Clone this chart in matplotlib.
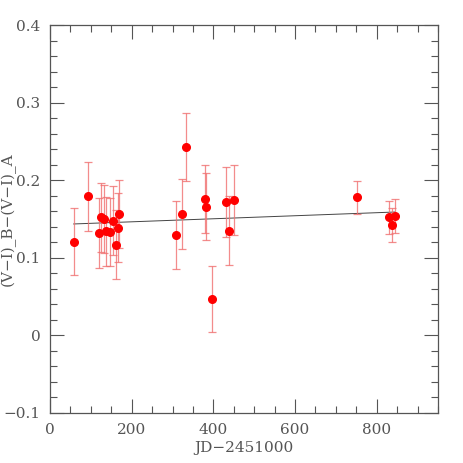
import matplotlib
matplotlib.use("Agg")
import matplotlib.pyplot as plt
from matplotlib.ticker import MultipleLocator, FuncFormatter

# colour difference between the two images vs time
jd = [58.7, 92, 120, 124.7, 131, 137.7, 147.5, 154, 161.4, 165.5, 168,
      309, 322, 333.5, 380, 383, 396.8, 432, 439, 450.7,
      750.6, 831, 838, 844]
dvi = [0.121, 0.179, 0.132, 0.152, 0.150, 0.134, 0.133, 0.148, 0.117, 0.139, 0.156,
       0.129, 0.156, 0.243, 0.176, 0.166, 0.047, 0.172, 0.135, 0.174,
       0.178, 0.152, 0.142, 0.154]
err = [0.043, 0.044, 0.045, 0.044, 0.044, 0.044, 0.044, 0.044, 0.044, 0.044, 0.044,
       0.044, 0.045, 0.044, 0.044, 0.043, 0.043, 0.045, 0.044, 0.045,
       0.021, 0.021, 0.022, 0.022]

fit_x = [58, 845]
fit_y = [0.1436, 0.159]

grey = "#555555"
plt.rcParams["font.family"] = "DejaVu Serif"

fig = plt.figure(figsize=(4.63, 4.63), dpi=100)
ax = fig.add_axes([0.108, 0.108, 0.838, 0.838])

ax.errorbar(jd, dvi, yerr=err, fmt="none", ecolor="#f07070", elinewidth=0.9,
            capsize=3, capthick=0.9, alpha=0.8, zorder=2)
ax.plot(jd, dvi, "o", color="red", markersize=5.5, zorder=3)
ax.plot(fit_x, fit_y, color="#444444", lw=0.7, zorder=1)

ax.set_xlim(0, 950)
ax.set_ylim(-0.1, 0.4)
ax.xaxis.set_major_locator(MultipleLocator(200))
ax.xaxis.set_minor_locator(MultipleLocator(50))
ax.yaxis.set_major_locator(MultipleLocator(0.1))
ax.yaxis.set_minor_locator(MultipleLocator(0.02))


def yfmt(v, pos):
    s = "%g" % round(v, 2)
    return s.replace("-", "\u2212")


ax.yaxis.set_major_formatter(FuncFormatter(yfmt))

ax.tick_params(which="both", direction="in", top=True, right=True, colors=grey,
               labelsize=11, labelcolor=grey)
ax.tick_params(which="major", length=10, width=0.8, pad=7)
ax.tick_params(which="minor", length=5, width=0.8)
for s in ax.spines.values():
    s.set_color(grey)
    s.set_linewidth(0.9)

ax.set_xlabel("JD\u22122451000", fontsize=11, color=grey, labelpad=3)
ax.set_ylabel("(V\u2212I)_B\u2212(V\u2212I)_A", fontsize=11, color=grey)
ax.yaxis.set_label_coords(-0.088, 0.5)

fig.savefig("out.png", dpi=100)
